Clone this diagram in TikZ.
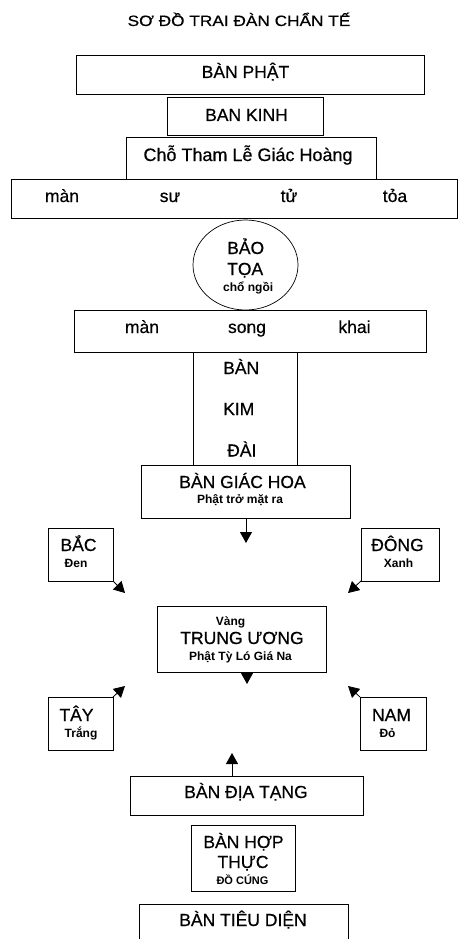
\documentclass[tikz,border=0pt]{standalone}
\usepackage{fontspec}
\setmainfont{Liberation Sans}
\newfontfamily\heavy[FakeBold=0.5]{Liberation Sans}
\usetikzlibrary{shapes.geometric,arrows.meta}
\newcommand\mkbox[5]{\node[box, minimum width={#4-#2}, minimum height={#5-#3}] (#1) at ({(#2+#4)/2},{(#3+#5)/2}) {};}
\begin{document}
\begin{tikzpicture}[x=1pt,y=-1pt,
  box/.style={draw=black, line width=0.8pt, inner sep=0pt, outer sep=0pt, rectangle},
  big/.style={inner sep=0pt, anchor=base, font=\heavy\fontsize{17.5}{20}\selectfont},
  sm/.style={inner sep=0pt, anchor=base, font=\bfseries\fontsize{12}{14}\selectfont},
  arr/.style={line width=0.8pt, -{Triangle[length=11pt,width=12pt]}}]
\useasboundingbox (0,0) rectangle (458,939);
\clip (0,0) rectangle (458,939);
\fill[white] (0,0) rectangle (458,939);
% title
\node[inner sep=0pt, anchor=base, font=\heavy\fontsize{15}{18}\selectfont] (title) at (239,26) {\scalebox{1.15}[1]{SƠ ĐỒ TRAI ĐÀN CHẨN TẾ}};
% boxes
\mkbox{phat}{76}{55}{424}{94}
\mkbox{kinh}{167}{97}{323}{135}
\mkbox{cho}{126}{137}{376}{179}
\mkbox{sutu}{11}{179}{457}{218}
\node[draw=black, line width=0.7pt, ellipse, inner sep=0pt, minimum width=105, minimum height=90] (baotoa) at (245.5,265) {};
\mkbox{song}{74}{310}{426}{352}
\mkbox{kimdai}{193}{352}{297}{465}
\mkbox{giachoa}{141}{465}{350}{518}
\mkbox{bac}{48}{528}{113}{581}
\mkbox{dong}{361}{528}{439}{581}
\mkbox{trung}{157}{606}{326}{672}
\mkbox{tay}{48}{697}{113}{750}
\mkbox{nam}{360}{697}{426}{750}
\mkbox{diatang}{130}{776}{363}{815}
\mkbox{hopthuc}{191}{825}{295}{891}
\mkbox{tieudien}{139}{904}{348}{950}
% texts
\node[big] (tphat) at (245.5,78) {BÀN PHẬT};
\node[big] (tkinh) at (246.5,121) {BAN KINH};
\node[big, font=\heavy\fontsize{18}{20}\selectfont] (tcho) at (248,161) {Chỗ Tham Lễ Giác Hoàng};
\node[big] (t1) at (62,202) {màn};
\node[big] (t2) at (170,202) {sư};
\node[big] (t3) at (289,202) {tử};
\node[big] (t4) at (395,202) {tỏa};
\node[big, anchor=base west] (tbao) at (227,254) {BẢO};
\node[big, anchor=base west] (ttoa) at (227,275) {TỌA};
\node[sm, anchor=base west] (tcho2) at (223,291) {chổ ngồi};
\node[big] (s1) at (142,333) {màn};
\node[big] (s2) at (247,333) {song};
\node[big] (s3) at (354.5,333) {khai};
\node[big, anchor=base west] (k1) at (223,374) {BÀN};
\node[big, anchor=base west] (k2) at (223,415) {KIM};
\node[big, anchor=base west] (k3) at (227,456.5) {ĐÀI};
\node[big] (tgh) at (242.5,488) {BÀN GIÁC HOA};
\node[sm] (tgh2) at (240,503) {Phật trở mặt ra};
\node[big] (tbac) at (78.5,551) {BẮC};
\node[sm] (tbac2) at (76,567) {Đen};
\node[big] (tdong) at (397.5,551) {ĐÔNG};
\node[sm] (tdong2) at (398.5,567) {Xanh};
\node[sm] (ttr1) at (230.5,625) {Vàng};
\node[big] (ttr2) at (242,644) {TRUNG ƯƠNG};
\node[sm] (ttr3) at (240.5,660) {Phật Tỳ Ló Giá Na};
\node[big] (ttay) at (76.5,721) {TÂY};
\node[sm] (ttay2) at (81,737) {Trắng};
\node[big] (tnam) at (391.5,721) {NAM};
\node[sm] (tnam2) at (387.5,737) {Đỏ};
\node[big] (tdt) at (246,798) {BÀN ĐỊA TẠNG};
\node[big] (th1) at (243.5,848) {BÀN HỢP};
\node[big] (th2) at (243,868) {THỰC};
\node[sm, font=\bfseries\fontsize{11}{13}\selectfont] (th3) at (242.5,884) {ĐỒ CÚNG};
\node[big] (ttd) at (243,926) {BÀN TIÊU DIỆN};
% arrows
\coordinate (ag) at (246,543);
\coordinate (ab) at (125,593);
\coordinate (ad) at (348,593);
\coordinate (at) at (247,684);
\coordinate (ay) at (125,686);
\coordinate (an) at (348,686);
\coordinate (ax) at (232,753);
\draw[arr] (giachoa.south -| ag) -- (ag);
\draw[arr] (bac.south east) -- (ab);
\draw[arr] (dong.south west) -- (ad);
\draw[arr] (trung.south -| at) -- (at);
\draw[arr] (tay.north east) -- (ay);
\draw[arr] (nam.north west) -- (an);
\draw[arr] (diatang.north -| ax) -- (ax);
\end{tikzpicture}
\end{document}
